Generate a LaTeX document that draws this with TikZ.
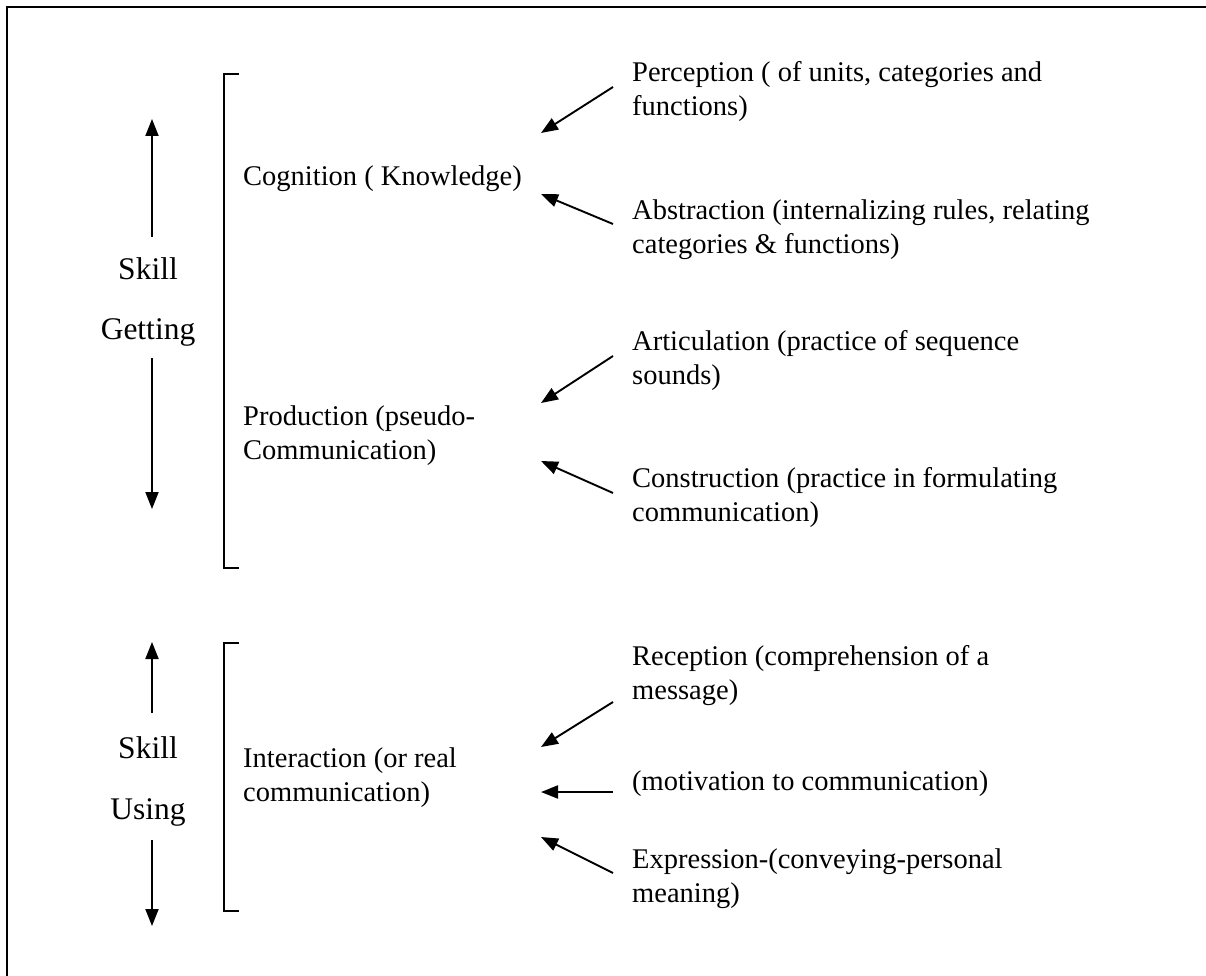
\documentclass[tikz,border=0pt]{standalone}
\usepackage{fontspec}
\setmainfont{Liberation Serif}
\usetikzlibrary{arrows.meta}
\begin{document}
\begin{tikzpicture}[x=1pt,y=-1pt,
  txt/.style={anchor=base west,inner sep=0pt,align=left,font=\fontsize{28.5}{34}\selectfont},
  big/.style={anchor=base,inner sep=0pt,font=\fontsize{31.5}{38}\selectfont},
  arr/.style={line width=1.9pt,-{Triangle[length=17pt,width=13pt]}},
  vline/.style={line width=1.9pt,-{Triangle[length=17pt,width=13pt]}},
  brk/.style={line width=1.7pt},
  frame/.style={line width=2.6pt}]
\useasboundingbox (0,0) rectangle (1206,976);
\fill[white] (0,0) rectangle (1206,976);
% frame (top and left edges)
\coordinate (fa) at (7,980);
\coordinate (fb) at (7,7);
\coordinate (fc) at (1210,7);
\draw[frame] (fa) -- (fb) -- (fc);

% ---------- Skill Getting ----------
\node[big] (sk1) at (148,279) {Skill};
\node[big] (get) at (148,339) {Getting};
\coordinate (u1s) at (152,237);
\coordinate (u1e) at (152,119);
\coordinate (d1s) at (152,358);
\coordinate (d1e) at (152,509);
\draw[vline] (u1s) -- (u1e);
\draw[vline] (d1s) -- (d1e);

% bracket 1
\coordinate (b1a) at (239,74);
\coordinate (b1b) at (224,74);
\coordinate (b1c) at (224,568);
\coordinate (b1d) at (239,568);
\draw[brk] (b1a) -- (b1b) -- (b1c) -- (b1d);

\node[txt] (cog) at (243,186) {Cognition ( Knowledge)};
\node[txt] (prod) at (243,459) {Production (pseudo-\\Communication)};

\node[txt] (perc) at (632,116) {Perception ( of units, categories and\\functions)};
\node[txt] (abst) at (632,254) {Abstraction (internalizing rules, relating\\categories \& functions)};
\node[txt] (artic) at (632,384) {Articulation (practice of sequence\\sounds)};
\node[txt] (constr) at (632,521) {Construction (practice in formulating\\communication)};

\coordinate (p1) at (613,87);
\coordinate (p2) at (541,133);
\coordinate (a1) at (613,224);
\coordinate (a2) at (541,194);
\coordinate (r1) at (613,356);
\coordinate (r2) at (541,403);
\coordinate (c1) at (613,493);
\coordinate (c2) at (541,461);
\draw[arr] (p1) -- (p2);
\draw[arr] (a1) -- (a2);
\draw[arr] (r1) -- (r2);
\draw[arr] (c1) -- (c2);

% ---------- Skill Using ----------
\node[big] (sk2) at (148,758) {Skill};
\node[big] (use) at (148,819) {Using};
\coordinate (u2s) at (152,713);
\coordinate (u2e) at (152,642);
\coordinate (d2s) at (152,840);
\coordinate (d2e) at (152,926);
\draw[vline] (u2s) -- (u2e);
\draw[vline] (d2s) -- (d2e);

% bracket 2
\coordinate (b2a) at (239,643);
\coordinate (b2b) at (224,643);
\coordinate (b2c) at (224,911);
\coordinate (b2d) at (239,911);
\draw[brk] (b2a) -- (b2b) -- (b2c) -- (b2d);

\node[txt] (inter) at (243,801) {Interaction (or real\\communication)};

\node[txt] (recep) at (632,699) {Reception (comprehension of a\\message)};
\node[txt] (motiv) at (632,790) {(motivation to communication)};
\node[txt] (expr) at (632,902) {Expression-(conveying-personal\\meaning)};

\coordinate (e1) at (613,702);
\coordinate (e2) at (541,747);
\coordinate (m1) at (613,792);
\coordinate (m2) at (541,792);
\coordinate (x1) at (613,873);
\coordinate (x2) at (541,837);
\draw[arr] (e1) -- (e2);
\draw[arr] (m1) -- (m2);
\draw[arr] (x1) -- (x2);
\end{tikzpicture}
\end{document}
